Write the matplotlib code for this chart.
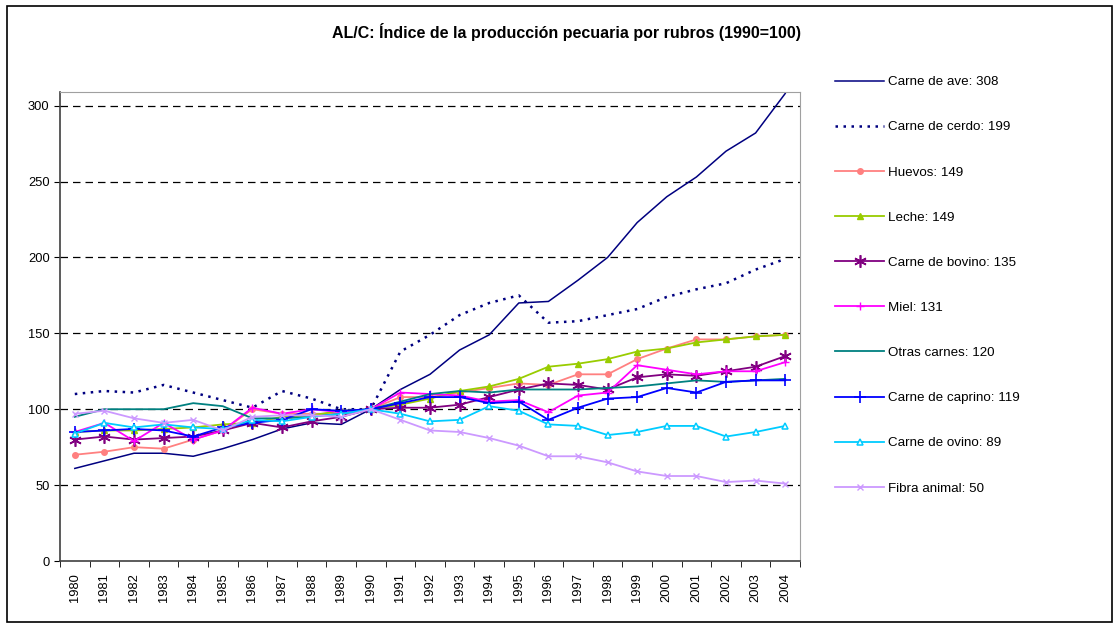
import numpy as np
import matplotlib.pyplot as plt
from matplotlib.patches import Rectangle

plt.rcParams['font.family'] = ['Liberation Sans', 'DejaVu Sans']

years = list(range(1980, 2005))

ave = [61, 66, 71, 71, 69, 74, 80, 87, 91, 90, 100, 113, 123, 139, 149, 170, 171, 185, 200, 223, 240, 253, 270, 282, 308]
cerdo = [110, 112, 111, 116, 111, 106, 101, 112, 107, 100, 100, 138, 149, 162, 170, 175, 157, 158, 162, 166, 174, 179, 183, 192, 199]
huevos = [70, 72, 75, 74, 80, 86, 100, 97, 97, 97, 100, 108, 108, 111, 114, 117, 116, 123, 123, 133, 140, 146, 146, 148, 149]
leche = [85, 86, 86, 87, 88, 90, 91, 95, 96, 99, 100, 103, 107, 112, 115, 120, 128, 130, 133, 138, 140, 144, 146, 148, 149]
bovino = [80, 82, 80, 81, 82, 86, 91, 88, 92, 95, 100, 101, 101, 103, 108, 113, 117, 116, 113, 121, 123, 122, 125, 128, 135]
miel = [85, 91, 79, 91, 80, 86, 101, 97, 100, 98, 100, 111, 110, 109, 105, 106, 98, 109, 111, 129, 126, 123, 125, 125, 131]
otras = [95, 100, 100, 100, 104, 102, 94, 94, 95, 97, 100, 105, 110, 112, 111, 113, 113, 113, 114, 115, 117, 119, 118, 119, 120]
caprino = [85, 86, 87, 86, 82, 88, 91, 93, 100, 99, 100, 104, 108, 108, 104, 105, 93, 101, 107, 108, 114, 111, 118, 119, 119]
ovino = [84, 91, 88, 90, 88, 87, 93, 92, 95, 97, 100, 97, 92, 93, 102, 99, 90, 89, 83, 85, 89, 89, 82, 85, 89]
fibra = [97, 99, 94, 91, 93, 86, 95, 96, 96, 95, 100, 93, 86, 85, 81, 76, 69, 69, 65, 59, 56, 56, 52, 53, 51]

labels = ['Carne de ave: 308', 'Carne de cerdo: 199', 'Huevos: 149', 'Leche: 149',
          'Carne de bovino: 135', 'Miel: 131', 'Otras carnes: 120',
          'Carne de caprino: 119', 'Carne de ovino: 89', 'Fibra animal: 50']

fig = plt.figure(figsize=(11.16, 6.24), dpi=100)
ax = fig.add_axes([60 / 1116, 1 - 561 / 624, 740 / 1116, 469 / 624])

x = np.arange(len(years))
ax.plot(x, ave, color='#000080', lw=1.1, label=labels[0])
ax.plot(x, cerdo, color='#000080', lw=1.8, ls=(0, (1, 2.2)), label=labels[1])
ax.plot(x, huevos, color='#FF8080', lw=1.3, marker='o', ms=4, label=labels[2])
ax.plot(x, leche, color='#99CC00', lw=1.3, marker='^', ms=5, label=labels[3])
ax.plot(x, bovino, color='#800080', lw=1.3, marker=(6, 2, 0), ms=9, mew=1.2, label=labels[4])
ax.plot(x, miel, color='#FF00FF', lw=1.3, marker='+', ms=6, mew=1, label=labels[5])
ax.plot(x, otras, color='#008080', lw=1.3, label=labels[6])
ax.plot(x, caprino, color='#0000FF', lw=1.3, marker='+', ms=9, mew=1.2, label=labels[7])
ax.plot(x, ovino, color='#00CCFF', lw=1.3, marker='^', ms=5, mfc='white', mew=1.1, label=labels[8])
ax.plot(x, fibra, color='#CC99FF', lw=1.3, marker='x', ms=5, mew=1, label=labels[9])

ax.set_xlim(-0.5, len(years) - 0.5)
ax.set_ylim(0, 309)
ax.set_yticks(range(0, 301, 50))
for v in range(50, 301, 50):
    ax.axhline(v, color='black', lw=0.9, ls=(0, (6, 4)), zorder=0)

ax.set_xticks(x)
ax.set_xticklabels(years, rotation=90)
ax.set_xticks(np.arange(-0.5, len(years), 1), minor=True)
ax.tick_params(axis='x', which='major', length=0, pad=9, labelsize=9.3)
ax.tick_params(axis='x', which='minor', length=4, direction='out')
ax.tick_params(axis='y', length=4, direction='out', labelsize=9.3)

for s in ['top', 'right']:
    ax.spines[s].set_color('#a0a0a0')
for s in ['left', 'bottom']:
    ax.spines[s].set_color('#404040')
    ax.spines[s].set_linewidth(1.2)

fig.suptitle('AL/C: Índice de la producción pecuaria por rubros (1990=100)',
             x=567 / 1116, y=1 - 23 / 624, fontsize=11.5, fontweight='bold')

fig.legend(loc='upper left', bbox_to_anchor=(823 / 1116, 1 - 64 / 624), frameon=False,
           fontsize=9.6, handlelength=3.7, handletextpad=0.3, labelspacing=2.46)

fig.patches.append(Rectangle((7 / 1116, 2 / 624), 1105 / 1116, 616 / 624,
                             transform=fig.transFigure, fill=False,
                             edgecolor='black', lw=1.2))

fig.savefig('out.png', dpi=100)
